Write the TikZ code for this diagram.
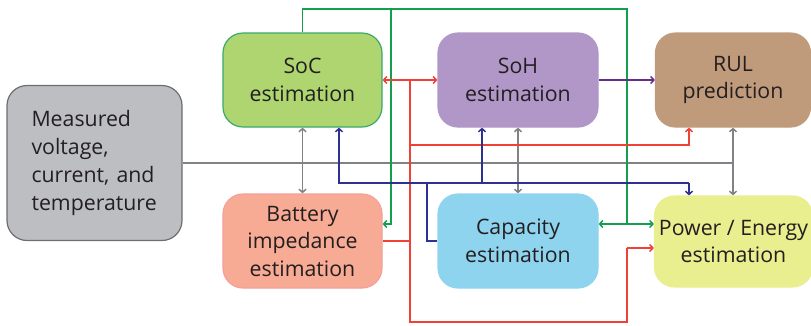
\documentclass[tikz,border=0pt]{standalone}
\usepackage{fontspec}
\setmainfont{Open Sans}
\usetikzlibrary{arrows.meta,calc}
\definecolor{txt}{HTML}{231F20}
\definecolor{lgray}{HTML}{808285}
\definecolor{lgreen}{HTML}{12A04E}
\definecolor{lred}{HTML}{EF4136}
\definecolor{lblue}{HTML}{2E3192}
\definecolor{lpurple}{HTML}{662D91}
\definecolor{fmeas}{HTML}{BDBEC1}
\definecolor{bmeas}{HTML}{6D6E71}
\definecolor{fsoc}{HTML}{AED56F}
\definecolor{bsoc}{HTML}{3BAA68}
\definecolor{fsoh}{HTML}{B197C8}
\definecolor{frul}{HTML}{C09B7B}
\definecolor{fbat}{HTML}{F7AA94}
\definecolor{bbat}{HTML}{F59E9A}
\definecolor{fcap}{HTML}{8FD4EF}
\definecolor{fpow}{HTML}{E9EE8E}
\begin{document}
\begin{tikzpicture}[x=1pt,y=-1pt,
  box/.style={rounded corners=20pt, align=center, text=txt, inner sep=0pt,
    font=\fontsize{21.3}{27.5}\selectfont, line width=1.2pt},
  wire/.style={line width=1.5pt},
  tip/.style={arrows={-Straight Barb[length=3.2pt,width=7pt]}},
  tips/.style={arrows={Straight Barb[length=3.2pt,width=7pt]-Straight Barb[length=3.2pt,width=7pt]}},
]
\useasboundingbox (0,0) rectangle (811,325);

% blocks
\node[box, draw=bmeas, fill=fmeas, minimum width=175pt, minimum height=155pt, align=left, text width=126pt,
  font=\fontsize{21.3}{28}\selectfont]
  (meas) at (94.5,163) {Measured\\voltage,\\current, and\\temperature};
\node[box, draw=bsoc, fill=fsoc, minimum width=159pt, minimum height=94pt] (soc) at (302.5,80) {SoC\\estimation};
\node[box, draw=fsoh, fill=fsoh, minimum width=160pt, minimum height=94pt] (soh) at (518,80) {SoH\\estimation};
\node[box, draw=frul, fill=frul, minimum width=155pt, minimum height=94pt] (rul) at (733,80) {RUL\\prediction};
\node[box, draw=bbat, fill=fbat, minimum width=159pt, minimum height=94pt] (bat) at (302.5,241) {Battery\\impedance\\estimation};
\node[box, draw=fcap, fill=fcap, minimum width=160pt, minimum height=94pt] (cap) at (518,241) {Capacity\\estimation};
\node[box, draw=fpow, fill=fpow, minimum width=158pt, minimum height=91pt] (pow) at (733.5,241.5) {Power / Energy\\estimation};

% junction points of the wiring
\coordinate (gtop) at (627,9);
\coordinate (gmid) at (627,224);
\coordinate (gbranch) at (391,9);
\coordinate (gbat) at (391,224);
\coordinate (rtop) at (410,80);
\coordinate (rrul) at (410,145);
\coordinate (rrulx) at (689,145);
\coordinate (rbot) at (410,322);
\coordinate (rbotx) at (627,322);
\coordinate (rpow) at (627,248);
\coordinate (bcap) at (427,241);
\coordinate (bup) at (427,183);
\coordinate (bleft) at (339,183);
\coordinate (bright) at (689,183);
\coordinate (bsoh) at (482,183);

% gray: measurements bus and vertical links
\draw[wire, lgray] (meas.east) -- (rul.south |- meas.east);
\draw[wire, lgray, tips] (soc.south) -- (bat.north);
\draw[wire, lgray, tips] (soh.south) -- (cap.north);
\draw[wire, lgray, tips] (rul.south) -- (rul.south |- pow.north);

% green network
\draw[wire, lgreen] (soc.north) -- (soc.north |- gtop) -- (gtop) -- (gmid);
\draw[wire, lgreen, tip] (gmid) -- (cap.east |- gmid);
\draw[wire, lgreen, tip] (gmid) -- (pow.west |- gmid);
\draw[wire, lgreen, tip] (gbranch) -- (gbat) -- (bat.east |- gbat);

% red network
\draw[wire, lred, tips] (soc.east) -- (soh.west);
\draw[wire, lred] (rtop) -- (rbot) -- (rbotx) -- (rpow);
\draw[wire, lred, tip] (rpow) -- (pow.west |- rpow);
\draw[wire, lred, tip] (rrul) -- (rrulx) -- (rrulx |- rul.south);
\draw[wire, lred] (bat.east) -- (rtop |- bat.east);

% blue network
\draw[wire, lblue] (cap.west) -- (bcap) -- (bup);
\draw[wire, lblue, tip] (bright) -- (bleft) -- (bleft |- soc.south);
\draw[wire, lblue, tip] (bsoh) -- (bsoh |- soh.south);
\draw[wire, lblue, tip] (bright) -- (bright |- pow.north);

% purple link
\draw[wire, lpurple, tip] (soh.east) -- (rul.west);
\end{tikzpicture}
\end{document}
